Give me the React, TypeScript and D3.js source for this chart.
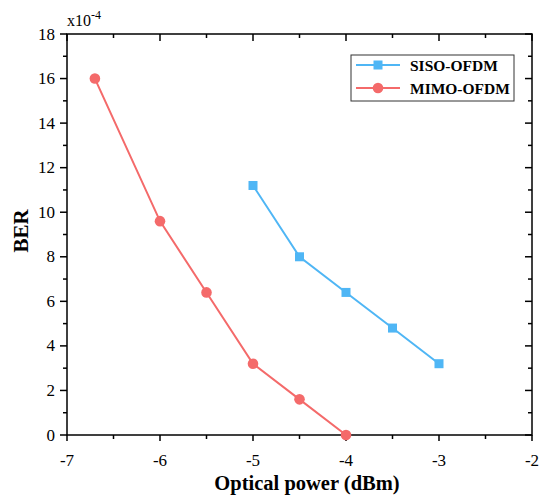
import React from "react";
import * as d3 from "d3";

const sisoX = [-5, -4.5, -4, -3.5, -3];
const sisoY = [11.2, 8, 6.4, 4.8, 3.2];
const mimoX = [-6.7, -6, -5.5, -5, -4.5, -4];
const mimoY = [16, 9.6, 6.4, 3.2, 1.6, 0];
const xTicks = [-7, -6, -5, -4, -3, -2];
const yTicks = [0, 2, 4, 6, 8, 10, 12, 14, 16, 18];
const seriesNames = ["SISO-OFDM", "MIMO-OFDM"];

const W = 540, H = 497;
const L = 67, R = 532, T = 34, B = 435;
const blue = "#4fb6f5";
const red = "#f46a6a";
const font = "'Liberation Serif', 'Times New Roman', serif";

export default function App() {
  const x = d3.scaleLinear().domain([-7, -2]).range([L, R]);
  const y = d3.scaleLinear().domain([0, 18]).range([B, T]);
  const line = d3.line<[number, number]>().x(d => x(d[0])).y(d => y(d[1]));
  const siso = sisoX.map((v, i) => [v, sisoY[i]] as [number, number]);
  const mimo = mimoX.map((v, i) => [v, mimoY[i]] as [number, number]);
  const xMinor = d3.range(-7, -1.99, 0.5);
  const yMinor = d3.range(0, 18.01, 1);
  return (
    <svg width={W} height={H} style={{ position: "absolute", left: 0, top: 0, background: "#fff" }} fontFamily={font}>
      <rect x={0} y={0} width={W} height={H} fill="#fff" />
      <rect x={L} y={T} width={R - L} height={B - T} fill="none" stroke="#000" strokeWidth={1.5} />
      {xMinor.map((v, i) => {
        const major = Math.abs(v - Math.round(v)) < 1e-6;
        return <line key={"bx" + i} x1={x(v)} x2={x(v)} y1={B} y2={B + (major ? 6 : 4)} stroke="#000" strokeWidth={1.5} />;
      })}
      {xMinor.map((v, i) => {
        const major = Math.abs(v - Math.round(v)) < 1e-6;
        return <line key={"tx" + i} x1={x(v)} x2={x(v)} y1={T} y2={T + (major ? 7 : 4)} stroke="#000" strokeWidth={1.5} />;
      })}
      {yMinor.map((v, i) => {
        const major = v % 2 === 0;
        return <line key={"ly" + i} x1={L - (major ? 7 : 4)} x2={L} y1={y(v)} y2={y(v)} stroke="#000" strokeWidth={1.5} />;
      })}
      {yMinor.map((v, i) => {
        const major = v % 2 === 0;
        return <line key={"ry" + i} x1={R - (major ? 7 : 4)} x2={R} y1={y(v)} y2={y(v)} stroke="#000" strokeWidth={1.5} />;
      })}
      {xTicks.map(v => (
        <text key={"xl" + v} x={x(v)} y={B + 31} fontSize={17} textAnchor="middle">{v}</text>
      ))}
      {yTicks.map(v => (
        <text key={"yl" + v} x={L - 12} y={y(v) + 5.5} fontSize={17} textAnchor="end">{v}</text>
      ))}
      <text x={L} y={26} fontSize={16}>x10<tspan dy={-7} fontSize={12}>-4</tspan></text>
      <text x={307} y={490} fontSize={20.5} fontWeight="bold" textAnchor="middle">Optical power (dBm)</text>
      <text transform={`translate(28,231) rotate(-90)`} fontSize={21} fontWeight="bold" textAnchor="middle">BER</text>
      <path d={line(siso) || ""} fill="none" stroke={blue} strokeWidth={2} />
      {siso.map((d, i) => (
        <rect key={"s" + i} x={x(d[0]) - 4.5} y={y(d[1]) - 4.5} width={9} height={9} fill={blue} />
      ))}
      <path d={line(mimo) || ""} fill="none" stroke={red} strokeWidth={2} />
      {mimo.map((d, i) => (
        <circle key={"m" + i} cx={x(d[0])} cy={y(d[1])} r={5.3} fill={red} />
      ))}
      <rect x={351} y={55} width={163} height={46} fill="#fff" stroke="#333" strokeWidth={1} />
      <line x1={356} x2={400} y1={65} y2={65} stroke={blue} strokeWidth={2} />
      <rect x={378 - 4.5} y={65 - 4.5} width={9} height={9} fill={blue} />
      <text x={410} y={70.5} fontSize={15.5} fontWeight="bold">{seriesNames[0]}</text>
      <line x1={356} x2={400} y1={88} y2={88} stroke={red} strokeWidth={2} />
      <circle cx={378} cy={88} r={5.3} fill={red} />
      <text x={410} y={93.5} fontSize={15.5} fontWeight="bold">{seriesNames[1]}</text>
    </svg>
  );
}
